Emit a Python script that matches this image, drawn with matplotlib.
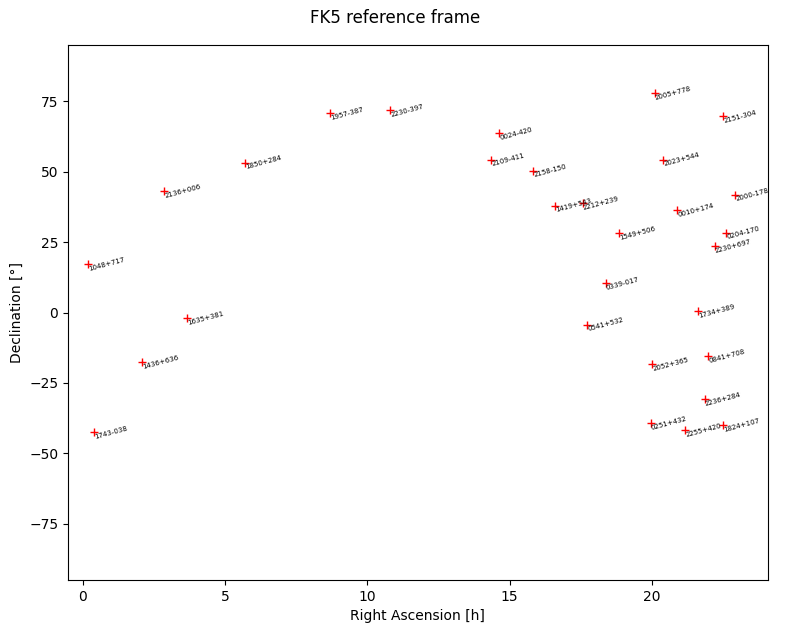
import numpy as np
import matplotlib
matplotlib.use("Agg")
import matplotlib.pyplot as plt

names = ["1048+717", "2136+006", "1850+284", "1957-387", "2230-397",
         "0024-420", "2109-411", "2158-150", "1419+543", "2212+239",
         "2005+778", "2151-304", "2023+544", "2000-178", "0010+174",
         "1549+506", "0204-170", "2230+697", "0339-017", "0541+532",
         "1734+389", "2052+365", "0841+708", "2236+284", "0251+432",
         "2255+420", "1824+107", "1635+381", "1436+636", "1743-038"]
ra = np.array([0.18, 2.85, 5.69, 8.68, 10.79,
               14.62, 14.34, 15.82, 16.59, 17.57,
               20.10, 22.50, 20.39, 22.92, 20.88,
               18.84, 22.60, 22.21, 18.38, 17.72,
               21.62, 20.00, 21.97, 21.86, 19.96,
               21.16, 22.50, 3.66, 2.07, 0.39])
dec = np.array([17.1, 43.2, 53.2, 70.7, 71.8,
                63.6, 54.3, 50.4, 37.9, 38.9,
                77.9, 69.6, 54.3, 41.8, 36.4,
                28.2, 28.2, 23.6, 10.4, -4.3,
                0.4, -18.2, -15.4, -30.7, -39.3,
                -41.8, -40.0, -2.1, -17.5, -42.5])

fig, ax = plt.subplots(figsize=(7.9, 6.32), dpi=100)
fig.subplots_adjust(left=0.086, right=0.972, top=0.929, bottom=0.082)
fig.suptitle("FK5 reference frame", y=0.985)

ax.plot(ra, dec, "r+", linestyle="None")
for n, x, y in zip(names, ra, dec):
    ax.text(x, y, n, fontsize=5, rotation=15, ha="left", va="center")

ax.set_xlim(-0.52, 24.08)
ax.set_ylim(-95, 95)
ax.set_xlabel("Right Ascension [h]")
ax.set_ylabel("Declination [°]")

fig.savefig("out.png", dpi=100)
